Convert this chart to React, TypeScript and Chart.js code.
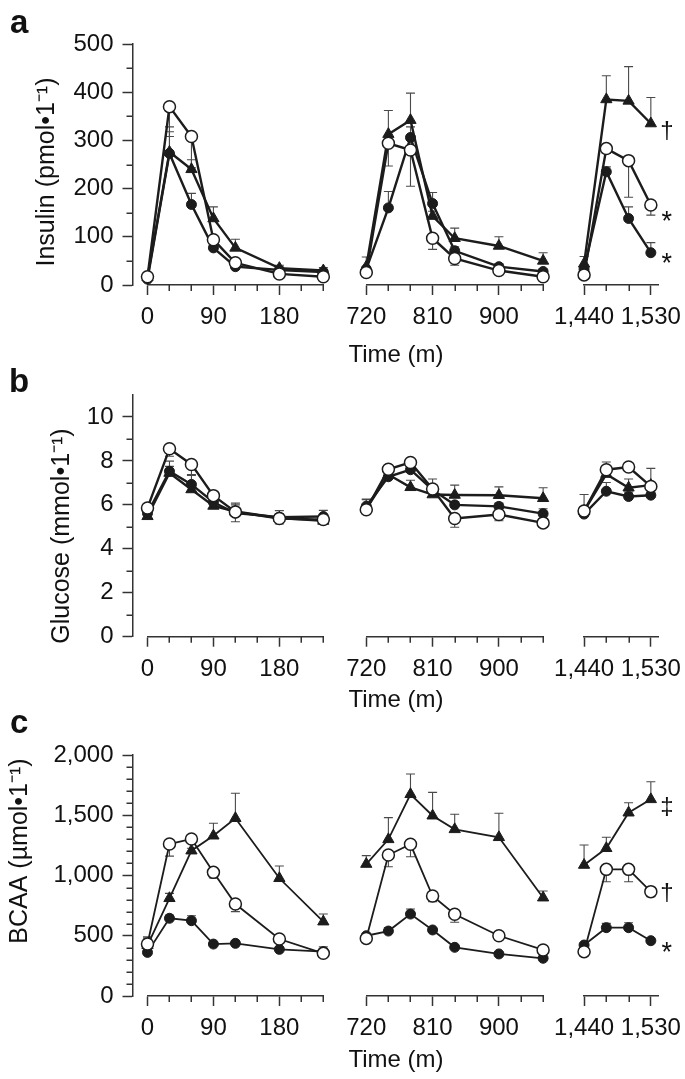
import React, { useEffect, useRef } from "react";
import { Chart, registerables } from "chart.js";

Chart.register(...registerables);

const FONT = "'Liberation Sans', Arial, Helvetica, sans-serif";
const INK = "#1c1c1c";
const AXIS = "#333333";
const ERR = "#4a4a4a";
const TEXT = "#111111";
const CLEAR = "rgba(0,0,0,0)";

// Time points (minutes) of the three axis segments
const timesSeg1 = [0, 30, 60, 90, 120, 180, 240];
const timesSeg2 = [720, 750, 780, 810, 840, 900, 960];
const timesSeg3 = [1440, 1470, 1500, 1530];

// Panel a: insulin (pmol/l); errors: + up, - down
const insulinOpen = [17, 370, 308, 94, 46, 23, 17, 26, 294, 280, 97, 55, 30, 17, 21, 283, 258, 166];
const insulinOpenErr = [5, -62, -65, 8, 6, 5, 5, -5, -47, -75, -23, -14, -6, -5, -3, -10, -76, -21];
const insulinFilled = [12, 273, 167, 77, 38, 31, 27, 33, 160, 306, 169, 71, 38, 28, 33, 235, 138, 67];
const insulinFilledErr = [5, 45, 23, 8, 8, 6, 5, 5, 34, 22, 23, 8, 6, 5, 5, 10, 24, 21];
const insulinTri = [16, 276, 240, 138, 77, 35, 30, 38, 313, 342, 143, 97, 81, 50, 44, 385, 382, 335];
const insulinTriErr = [5, 52, 20, 24, 18, 6, 6, 20, 49, 56, 10, 21, 19, 17, 15, 49, 71, 54];

// Panel b: glucose (mmol/l)
const glucoseOpen = [5.86, 8.55, 7.84, 6.42, 5.68, 5.38, 5.33, 5.78, 7.62, 7.93, 6.72, 5.38, 5.56, 5.18, 5.72, 7.6, 7.72, 6.84];
const glucoseOpenErr = [0.1, -0.34, -0.5, 0.1, -0.45, -0.25, -0.2, -0.1, 0.1, 0.1, 0.1, -0.4, -0.28, -0.2, 0.1, 0.35, 0.1, 0.1];
const glucoseFilled = [5.62, 7.53, 6.93, 6.12, 5.63, 5.44, 5.47, 5.94, 7.28, 7.6, 6.68, 6.0, 5.93, 5.6, 5.58, 6.62, 6.38, 6.44];
const glucoseFilledErr = [0.15, 0.46, 0.45, 0.15, 0.45, 0.3, 0.28, 0.3, 0.2, 0.15, 0.5, 0.15, 0.15, 0.22, 0.1, 0.4, 0.2, 0.1];
const glucoseTri = [5.48, 7.45, 6.7, 5.95, 5.7, 5.4, 5.27, 5.82, 7.38, 6.8, 6.47, 6.45, 6.44, 6.3, 5.72, 7.4, 6.78, 6.9];
const glucoseTriErr = [0.15, 0.3, 0.25, 0.12, 0.3, 0.2, 0.2, 0.45, 0.35, 0.32, 0.2, 0.45, 0.38, 0.48, 0.75, 0.2, 0.4, 0.76];

// Panel c: BCAA (umol/l)
const bcaaOpen = [431, 1261, 1303, 1026, 763, 473, 354, 478, 1170, 1259, 830, 678, 500, 382, 368, 1051, 1051, 866];
const bcaaOpenErr = [60, -100, 0, -47, -63, 0, 40, 0, -97, -103, -47, -66, -10, 0, 0, -103, -103, -42];
const bcaaFilled = [362, 645, 625, 431, 437, 387, 368, 500, 539, 680, 548, 404, 349, 313, 423, 567, 567, 459];
const bcaaFilledErr = [10, 27, 41, 10, 22, 10, 40, 10, 30, 42, 15, 15, 10, 10, 10, 36, 41, 10];
const bcaaTri = [420, 811, 1206, 1330, 1475, 977, 617, 1095, 1300, 1674, 1496, 1383, 1317, 816, 1087, 1226, 1521, 1632];
const bcaaTriErr = [60, 41, 20, 103, 207, 102, 63, 70, 180, 168, 194, 125, 199, 55, 166, 91, 83, 146];

type Note = { series: "open" | "filled" | "tri"; text: string; dy: number; size: number };

type Panel = {
  key: string;
  top: number;
  height: number;
  padTop: number;
  padBottom: number;
  yMax: number;
  yMinor: number;
  yMajor: number;
  lineWidth: number;
  letter: string;
  letterX: number;
  letterY: number;
  yTitle: string;
  yTitleX: number;
  yTitleY: number;
  timeY: number;
  open: number[];
  openErr: number[];
  filled: number[];
  filledErr: number[];
  tri: number[];
  triErr: number[];
  notes: Note[];
};

const XBOX = 52;

const panels: Panel[] = [
  {
    key: "a", top: 0, height: 370, padTop: 44, padBottom: 370 - 285 - XBOX,
    yMax: 500, yMinor: 50, yMajor: 100, lineWidth: 2.4,
    letter: "a", letterX: 10, letterY: 33,
    yTitle: "Insulin (pmol\u20221\u207B\u00B9)", yTitleX: 54, yTitleY: 172, timeY: 362,
    open: insulinOpen, openErr: insulinOpenErr, filled: insulinFilled, filledErr: insulinFilledErr,
    tri: insulinTri, triErr: insulinTriErr,
    notes: [
      { series: "tri", text: "\u2020", dy: 7, size: 24 },
      { series: "open", text: "*", dy: 11, size: 27 },
      { series: "filled", text: "*", dy: 5, size: 27 },
    ],
  },
  {
    key: "b", top: 355, height: 370, padTop: 40, padBottom: 370 - 281.7 - XBOX,
    yMax: 11, yMinor: 1, yMajor: 2, lineWidth: 2.4,
    letter: "b", letterX: 9, letterY: 392,
    yTitle: "Glucose (mmol\u20221\u207B\u00B9)", yTitleX: 69, yTitleY: 536, timeY: 707,
    open: glucoseOpen, openErr: glucoseOpenErr, filled: glucoseFilled, filledErr: glucoseFilledErr,
    tri: glucoseTri, triErr: glucoseTriErr,
    notes: [],
  },
  {
    key: "c", top: 705, height: 374, padTop: 50, padBottom: 374 - 291 - XBOX,
    yMax: 2000, yMinor: 100, yMajor: 500, lineWidth: 1.8,
    letter: "c", letterX: 10, letterY: 733,
    yTitle: "BCAA (\u00B5mol\u20221\u207B\u00B9)", yTitleX: 27, yTitleY: 851, timeY: 1067,
    open: bcaaOpen, openErr: bcaaOpenErr, filled: bcaaFilled, filledErr: bcaaFilledErr,
    tri: bcaaTri, triErr: bcaaTriErr,
    notes: [
      { series: "tri", text: "\u2021", dy: 7, size: 24 },
      { series: "open", text: "\u2020", dy: 1, size: 24 },
      { series: "filled", text: "*", dy: 6, size: 27 },
    ],
  },
];

const fmt = (v: number) => Number(v).toLocaleString("en-US");

function xSeg(min: number, max: number, stackWeight: number, order: number) {
  return {
    type: "linear",
    position: "bottom",
    stack: "time",
    stackWeight,
    weight: order,
    min,
    max,
    offset: false,
    ticks: {
      stepSize: 30,
      autoSkip: false,
      maxRotation: 0,
      minRotation: 0,
      includeBounds: false,
      padding: 8,
      color: TEXT,
      font: { family: FONT, size: 24 },
      callback: (v: number) => (v % 90 === 0 ? fmt(v) : ""),
    },
    grid: {
      display: true,
      drawOnChartArea: false,
      drawTicks: true,
      tickLength: 10,
      tickWidth: 1.5,
      tickColor: (c: any) => (c.tick && c.tick.value % 90 === 0 ? AXIS : CLEAR),
    },
    border: { display: true, color: AXIS, width: 1.5 },
    afterFit: (s: any) => {
      s.height = XBOX;
      s.paddingLeft = 0;
      s.paddingRight = 0;
    },
  };
}

function xGap(stackWeight: number, order: number) {
  return {
    type: "linear",
    position: "bottom",
    stack: "time",
    stackWeight,
    weight: order,
    min: 0,
    max: 1,
    ticks: { display: false },
    grid: { display: false, drawTicks: false },
    border: { display: false },
    afterFit: (s: any) => {
      s.height = XBOX;
      s.paddingLeft = 0;
      s.paddingRight = 0;
    },
  };
}

function buildChart(canvas: HTMLCanvasElement, p: Panel) {
  const segDefs = [
    { id: "x1", times: timesSeg1, start: 0 },
    { id: "x2", times: timesSeg2, start: timesSeg1.length },
    { id: "x3", times: timesSeg3, start: timesSeg1.length + timesSeg2.length },
  ];
  const seriesDefs = [
    { vals: p.open, errs: p.openErr, style: "circle", radius: 6, bg: "#ffffff", bw: 1.5, order: 0 },
    { vals: p.filled, errs: p.filledErr, style: "circle", radius: 5, bg: INK, bw: 1, order: 1 },
    { vals: p.tri, errs: p.triErr, style: "triangle", radius: 6.5, bg: INK, bw: 1, order: 2 },
  ];
  const datasets: any[] = [];
  seriesDefs.forEach((s) =>
    segDefs.forEach((seg) => {
      datasets.push({
        data: seg.times.map((t, i) => ({ x: t, y: s.vals[seg.start + i] })),
        errs: seg.times.map((_t, i) => s.errs[seg.start + i]),
        xAxisID: seg.id,
        yAxisID: "y",
        borderColor: INK,
        borderWidth: p.lineWidth,
        backgroundColor: s.bg,
        pointStyle: s.style,
        pointRadius: s.radius,
        pointBackgroundColor: s.bg,
        pointBorderColor: INK,
        pointBorderWidth: s.bw,
        order: s.order,
        clip: false,
        tension: 0,
        fill: false,
      });
    })
  );

  const decor = {
    id: "decor_" + p.key,
    beforeDatasetsDraw(chart: any) {
      const ctx = chart.ctx;
      const ys = chart.scales.y;
      ctx.save();
      ctx.strokeStyle = ERR;
      ctx.lineWidth = 1.1;
      chart.data.datasets.forEach((ds: any) => {
        const xs = chart.scales[ds.xAxisID];
        ds.data.forEach((pt: any, i: number) => {
          const e = ds.errs[i];
          if (!e) return;
          const x = xs.getPixelForValue(pt.x);
          const y0 = ys.getPixelForValue(pt.y);
          const y1 = ys.getPixelForValue(pt.y + e);
          ctx.beginPath();
          ctx.moveTo(x, y0);
          ctx.lineTo(x, y1);
          ctx.moveTo(x - 4.5, y1);
          ctx.lineTo(x + 4.5, y1);
          ctx.stroke();
        });
      });
      ctx.restore();
    },
    afterDraw(chart: any) {
      const ctx = chart.ctx;
      const ys = chart.scales.y;
      ctx.save();
      // minor ticks
      ctx.strokeStyle = AXIS;
      ctx.lineWidth = 1.5;
      ys.ticks.forEach((t: any) => {
        if (t.value % p.yMajor !== 0 && t.value < ys.max) {
          const y = Math.round(ys.getPixelForValue(t.value)) + 0.25;
          ctx.beginPath();
          ctx.moveTo(ys.right - 6, y);
          ctx.lineTo(ys.right, y);
          ctx.stroke();
        }
      });
      ["x1", "x2", "x3"].forEach((id) => {
        const xs = chart.scales[id];
        xs.ticks.forEach((t: any) => {
          if (t.value % 90 !== 0) {
            const x = Math.round(xs.getPixelForValue(t.value)) + 0.25;
            ctx.beginPath();
            ctx.moveTo(x, xs.top);
            ctx.lineTo(x, xs.top + 6);
            ctx.stroke();
          }
        });
      });
      // texts
      ctx.fillStyle = TEXT;
      ctx.font = `bold 33px ${FONT}`;
      ctx.textAlign = "left";
      ctx.textBaseline = "alphabetic";
      ctx.fillText(p.letter, p.letterX, p.letterY - p.top);

      ctx.font = `24px ${FONT}`;
      ctx.textAlign = "center";
      ctx.fillText("Time (m)", 396, p.timeY - p.top);

      ctx.save();
      ctx.font = `25px ${FONT}`;
      ctx.translate(p.yTitleX, p.yTitleY - p.top);
      ctx.rotate(-Math.PI / 2);
      ctx.textAlign = "center";
      ctx.fillText(p.yTitle, 0, 0);
      ctx.restore();

      // significance marks
      const x3 = chart.scales.x3;
      const lastT = timesSeg3[timesSeg3.length - 1];
      p.notes.forEach((n) => {
        const vals = n.series === "tri" ? p.tri : n.series === "open" ? p.open : p.filled;
        const v = vals[vals.length - 1];
        ctx.font = `${n.size}px ${FONT}`;
        const m = ctx.measureText(n.text);
        const vc = ys.getPixelForValue(v) + n.dy;
        const base = vc + (m.actualBoundingBoxAscent - m.actualBoundingBoxDescent) / 2;
        ctx.textAlign = "center";
        ctx.fillText(n.text, x3.getPixelForValue(lastT) + 16, base);
      });
      ctx.restore();
    },
  };

  return new Chart(canvas, {
    type: "line",
    data: { datasets },
    options: {
      responsive: false,
      animation: false,
      events: [],
      layout: { padding: { left: 8.5, right: 26, top: p.padTop, bottom: p.padBottom } },
      plugins: { legend: { display: false }, tooltip: { enabled: false } },
      scales: {
        y: {
          type: "linear",
          position: "left",
          min: 0,
          max: p.yMax,
          ticks: {
            stepSize: p.yMinor,
            maxTicksLimit: 100,
            autoSkip: false,
            padding: 9,
            color: TEXT,
            font: { family: FONT, size: 24 },
            callback: (v: number) => (v % p.yMajor === 0 ? fmt(v) : ""),
          },
          grid: {
            display: true,
            drawOnChartArea: false,
            tickLength: 10,
            tickWidth: 1.5,
            tickColor: (c: any) => (c.tick && c.tick.value % p.yMajor === 0 ? AXIS : CLEAR),
          },
          border: { display: true, color: AXIS, width: 1.5 },
          afterFit: (s: any) => {
            s.width = 124;
            s.paddingTop = 0;
            s.paddingBottom = 0;
          },
        },
        g0: xGap(15, 1),
        x1: xSeg(0, 240, 176, 2),
        g1: xGap(43, 3),
        x2: xSeg(720, 960, 177, 4),
        g2: xGap(41, 5),
        x3: xSeg(1440, 1541, 75, 6),
      } as any,
    },
    plugins: [decor as any],
  } as any);
}

function PanelChart({ panel }: { panel: Panel }) {
  const ref = useRef<HTMLCanvasElement>(null);
  useEffect(() => {
    const chart = buildChart(ref.current as HTMLCanvasElement, panel);
    return () => chart.destroy();
  }, [panel]);
  return (
    <canvas
      ref={ref}
      width={685}
      height={panel.height}
      style={{ position: "absolute", left: 0, top: panel.top, width: 685, height: panel.height, display: "block" }}
    />
  );
}

export default function App() {
  return (
    <div style={{ position: "fixed", left: 0, top: 0, width: 685, height: 1079, background: "#ffffff", overflow: "hidden" }}>
      {panels.map((p) => (
        <PanelChart key={p.key} panel={p} />
      ))}
    </div>
  );
}
